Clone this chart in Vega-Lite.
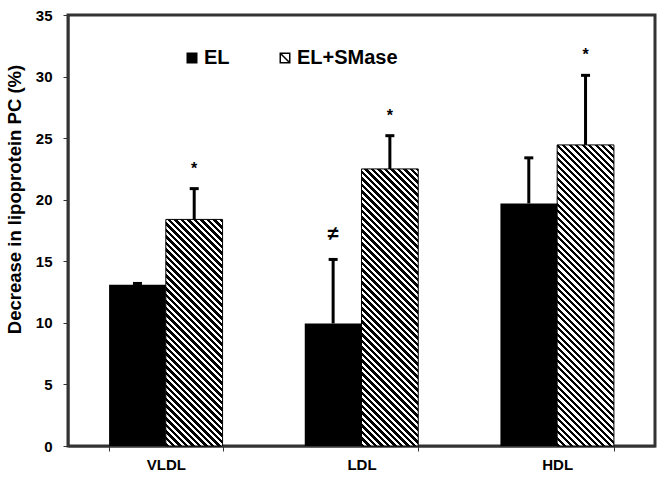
{
 "$schema": "https://vega.github.io/schema/vega-lite/v6.json",
 "width": 587,
 "height": 431,
 "autosize": {"type": "none"},
 "padding": {"left": 68, "top": 15, "right": 9, "bottom": 33},
 "background": "white",
 "config": {
  "view": {"stroke": "#333", "strokeWidth": 3},
  "font": "Liberation Sans",
  "axis": {"labelFont": "Liberation Sans", "labelFontWeight": "bold", "labelColor": "#000", "titleFont": "Liberation Sans", "titleFontWeight": "bold", "titleColor": "#000", "tickColor": "#333", "domainColor": "#333", "grid": false}
 },
 "params": [
  {"name": "hatchStops", "value": [
{"offset":0,"color":"#000"},
{"offset":0.009,"color":"#000"},{"offset":0.009,"color":"#fff"},
{"offset":0.018,"color":"#fff"},{"offset":0.018,"color":"#000"},
{"offset":0.027,"color":"#000"},{"offset":0.027,"color":"#fff"},
{"offset":0.036,"color":"#fff"},{"offset":0.036,"color":"#000"},
{"offset":0.045,"color":"#000"},{"offset":0.045,"color":"#fff"},
{"offset":0.054,"color":"#fff"},{"offset":0.054,"color":"#000"},
{"offset":0.063,"color":"#000"},{"offset":0.063,"color":"#fff"},
{"offset":0.072,"color":"#fff"},{"offset":0.072,"color":"#000"},
{"offset":0.081,"color":"#000"},{"offset":0.081,"color":"#fff"},
{"offset":0.09,"color":"#fff"},{"offset":0.09,"color":"#000"},
{"offset":0.099,"color":"#000"},{"offset":0.099,"color":"#fff"},
{"offset":0.108,"color":"#fff"},{"offset":0.108,"color":"#000"},
{"offset":0.117,"color":"#000"},{"offset":0.117,"color":"#fff"},
{"offset":0.126,"color":"#fff"},{"offset":0.126,"color":"#000"},
{"offset":0.135,"color":"#000"},{"offset":0.135,"color":"#fff"},
{"offset":0.144,"color":"#fff"},{"offset":0.144,"color":"#000"},
{"offset":0.153,"color":"#000"},{"offset":0.153,"color":"#fff"},
{"offset":0.162,"color":"#fff"},{"offset":0.162,"color":"#000"},
{"offset":0.171,"color":"#000"},{"offset":0.171,"color":"#fff"},
{"offset":0.18,"color":"#fff"},{"offset":0.18,"color":"#000"},
{"offset":0.189,"color":"#000"},{"offset":0.189,"color":"#fff"},
{"offset":0.198,"color":"#fff"},{"offset":0.198,"color":"#000"},
{"offset":0.207,"color":"#000"},{"offset":0.207,"color":"#fff"},
{"offset":0.216,"color":"#fff"},{"offset":0.216,"color":"#000"},
{"offset":0.225,"color":"#000"},{"offset":0.225,"color":"#fff"},
{"offset":0.234,"color":"#fff"},{"offset":0.234,"color":"#000"},
{"offset":0.243,"color":"#000"},{"offset":0.243,"color":"#fff"},
{"offset":0.252,"color":"#fff"},{"offset":0.252,"color":"#000"},
{"offset":0.261,"color":"#000"},{"offset":0.261,"color":"#fff"},
{"offset":0.27,"color":"#fff"},{"offset":0.27,"color":"#000"},
{"offset":0.279,"color":"#000"},{"offset":0.279,"color":"#fff"},
{"offset":0.288,"color":"#fff"},{"offset":0.288,"color":"#000"},
{"offset":0.297,"color":"#000"},{"offset":0.297,"color":"#fff"},
{"offset":0.306,"color":"#fff"},{"offset":0.306,"color":"#000"},
{"offset":0.315,"color":"#000"},{"offset":0.315,"color":"#fff"},
{"offset":0.324,"color":"#fff"},{"offset":0.324,"color":"#000"},
{"offset":0.333,"color":"#000"},{"offset":0.333,"color":"#fff"},
{"offset":0.342,"color":"#fff"},{"offset":0.342,"color":"#000"},
{"offset":0.351,"color":"#000"},{"offset":0.351,"color":"#fff"},
{"offset":0.36,"color":"#fff"},{"offset":0.36,"color":"#000"},
{"offset":0.369,"color":"#000"},{"offset":0.369,"color":"#fff"},
{"offset":0.378,"color":"#fff"},{"offset":0.378,"color":"#000"},
{"offset":0.387,"color":"#000"},{"offset":0.387,"color":"#fff"},
{"offset":0.396,"color":"#fff"},{"offset":0.396,"color":"#000"},
{"offset":0.405,"color":"#000"},{"offset":0.405,"color":"#fff"},
{"offset":0.414,"color":"#fff"},{"offset":0.414,"color":"#000"},
{"offset":0.423,"color":"#000"},{"offset":0.423,"color":"#fff"},
{"offset":0.432,"color":"#fff"},{"offset":0.432,"color":"#000"},
{"offset":0.441,"color":"#000"},{"offset":0.441,"color":"#fff"},
{"offset":0.45,"color":"#fff"},{"offset":0.45,"color":"#000"},
{"offset":0.459,"color":"#000"},{"offset":0.459,"color":"#fff"},
{"offset":0.468,"color":"#fff"},{"offset":0.468,"color":"#000"},
{"offset":0.477,"color":"#000"},{"offset":0.477,"color":"#fff"},
{"offset":0.486,"color":"#fff"},{"offset":0.486,"color":"#000"},
{"offset":0.495,"color":"#000"},{"offset":0.495,"color":"#fff"},
{"offset":0.504,"color":"#fff"},{"offset":0.504,"color":"#000"},
{"offset":0.513,"color":"#000"},{"offset":0.513,"color":"#fff"},
{"offset":0.522,"color":"#fff"},{"offset":0.522,"color":"#000"},
{"offset":0.531,"color":"#000"},{"offset":0.531,"color":"#fff"},
{"offset":0.54,"color":"#fff"},{"offset":0.54,"color":"#000"},
{"offset":0.549,"color":"#000"},{"offset":0.549,"color":"#fff"},
{"offset":0.558,"color":"#fff"},{"offset":0.558,"color":"#000"},
{"offset":0.567,"color":"#000"},{"offset":0.567,"color":"#fff"},
{"offset":0.576,"color":"#fff"},{"offset":0.576,"color":"#000"},
{"offset":0.585,"color":"#000"},{"offset":0.585,"color":"#fff"},
{"offset":0.594,"color":"#fff"},{"offset":0.594,"color":"#000"},
{"offset":0.603,"color":"#000"},{"offset":0.603,"color":"#fff"},
{"offset":0.612,"color":"#fff"},{"offset":0.612,"color":"#000"},
{"offset":0.621,"color":"#000"},{"offset":0.621,"color":"#fff"},
{"offset":0.63,"color":"#fff"},{"offset":0.63,"color":"#000"},
{"offset":0.639,"color":"#000"},{"offset":0.639,"color":"#fff"},
{"offset":0.648,"color":"#fff"},{"offset":0.648,"color":"#000"},
{"offset":0.657,"color":"#000"},{"offset":0.657,"color":"#fff"},
{"offset":0.666,"color":"#fff"},{"offset":0.666,"color":"#000"},
{"offset":0.675,"color":"#000"},{"offset":0.675,"color":"#fff"},
{"offset":0.684,"color":"#fff"},{"offset":0.684,"color":"#000"},
{"offset":0.693,"color":"#000"},{"offset":0.693,"color":"#fff"},
{"offset":0.702,"color":"#fff"},{"offset":0.702,"color":"#000"},
{"offset":0.711,"color":"#000"},{"offset":0.711,"color":"#fff"},
{"offset":0.72,"color":"#fff"},{"offset":0.72,"color":"#000"},
{"offset":0.729,"color":"#000"},{"offset":0.729,"color":"#fff"},
{"offset":0.738,"color":"#fff"},{"offset":0.738,"color":"#000"},
{"offset":0.747,"color":"#000"},{"offset":0.747,"color":"#fff"},
{"offset":0.756,"color":"#fff"},{"offset":0.756,"color":"#000"},
{"offset":0.765,"color":"#000"},{"offset":0.765,"color":"#fff"},
{"offset":0.774,"color":"#fff"},{"offset":0.774,"color":"#000"},
{"offset":0.783,"color":"#000"},{"offset":0.783,"color":"#fff"},
{"offset":0.792,"color":"#fff"},{"offset":0.792,"color":"#000"},
{"offset":0.801,"color":"#000"},{"offset":0.801,"color":"#fff"},
{"offset":0.81,"color":"#fff"},{"offset":0.81,"color":"#000"},
{"offset":0.819,"color":"#000"},{"offset":0.819,"color":"#fff"},
{"offset":0.828,"color":"#fff"},{"offset":0.828,"color":"#000"},
{"offset":0.837,"color":"#000"},{"offset":0.837,"color":"#fff"},
{"offset":0.846,"color":"#fff"},{"offset":0.846,"color":"#000"},
{"offset":0.855,"color":"#000"},{"offset":0.855,"color":"#fff"},
{"offset":0.864,"color":"#fff"},{"offset":0.864,"color":"#000"},
{"offset":0.873,"color":"#000"},{"offset":0.873,"color":"#fff"},
{"offset":0.882,"color":"#fff"},{"offset":0.882,"color":"#000"},
{"offset":0.891,"color":"#000"},{"offset":0.891,"color":"#fff"},
{"offset":0.9,"color":"#fff"},{"offset":0.9,"color":"#000"},
{"offset":0.909,"color":"#000"},{"offset":0.909,"color":"#fff"},
{"offset":0.918,"color":"#fff"},{"offset":0.918,"color":"#000"},
{"offset":0.927,"color":"#000"},{"offset":0.927,"color":"#fff"},
{"offset":0.936,"color":"#fff"},{"offset":0.936,"color":"#000"},
{"offset":0.945,"color":"#000"},{"offset":0.945,"color":"#fff"},
{"offset":0.954,"color":"#fff"},{"offset":0.954,"color":"#000"},
{"offset":0.963,"color":"#000"},{"offset":0.963,"color":"#fff"},
{"offset":0.972,"color":"#fff"},{"offset":0.972,"color":"#000"},
{"offset":0.981,"color":"#000"},{"offset":0.981,"color":"#fff"},
{"offset":0.99,"color":"#fff"},{"offset":0.99,"color":"#000"},
{"offset":0.999,"color":"#000"},{"offset":0.999,"color":"#fff"},
{"offset":1,"color":"#fff"}
  ]}
 ],
 "data": {"values": [
  {"lipo": "VLDL", "group": "EL", "value": 13.1, "upper": 13.2, "sig": ""},
  {"lipo": "VLDL", "group": "EL+SMase", "value": 18.4, "upper": 20.9, "sig": "*"},
  {"lipo": "LDL", "group": "EL", "value": 9.95, "upper": 15.15, "sig": "≠"},
  {"lipo": "LDL", "group": "EL+SMase", "value": 22.5, "upper": 25.2, "sig": "*"},
  {"lipo": "HDL", "group": "EL", "value": 19.7, "upper": 23.4, "sig": ""},
  {"lipo": "HDL", "group": "EL+SMase", "value": 24.45, "upper": 30.1, "sig": "*"}
 ]},
 "encoding": {
  "x": {"field": "lipo", "type": "nominal", "sort": ["VLDL", "LDL", "HDL"],
        "scale": {"paddingInner": 0.42, "paddingOuter": 0.21},
        "axis": {"title": null, "labelAngle": 0, "labelFontSize": 15, "labelPadding": 6, "tickBand": "extent", "tickSize": 5, "domainWidth": 2}},
  "xOffset": {"field": "group", "type": "nominal", "scale": {"domain": ["EL", "EL+SMase"], "paddingInner": 0, "paddingOuter": 0}}
 },
 "layer": [
  {
   "transform": [{"filter": "datum.group === 'EL'"}],
   "mark": {"type": "bar", "fill": "#000"},
   "encoding": {
    "y": {"field": "value", "type": "quantitative", "title": "Decrease in lipoprotein PC (%)",
          "scale": {"domain": [0, 35], "nice": false},
          "axis": {"values": [0, 5, 10, 15, 20, 25, 30, 35], "labelFontSize": 15, "labelPadding": 11, "tickSize": 5, "domainWidth": 2,
                   "titleFontSize": 18.5, "titleX": -54, "titleY": 184, "titleBaseline": "middle", "titleAlign": "center", "titleAngle": -90}}
   }
  },
  {
   "transform": [{"filter": "datum.group === 'EL+SMase'"}],
   "mark": {"type": "bar", "stroke": "#000", "strokeWidth": 1,
            "fill": {"expr": "{gradient: 'linear', x1: 0, y1: 1, x2: (56.74*361)/(56.74*56.74 + pow(scale('y', 0) - scale('y', datum.value), 2)), y2: 1 - (361*(scale('y', 0) - scale('y', datum.value)))/(56.74*56.74 + pow(scale('y', 0) - scale('y', datum.value), 2)), stops: hatchStops}"}},
   "encoding": {"y": {"field": "value", "type": "quantitative", "title": "Decrease in lipoprotein PC (%)"}}
  },
  {
   "mark": {"type": "rule", "strokeWidth": 3, "color": "#000"},
   "encoding": {"y": {"field": "value", "type": "quantitative", "title": "Decrease in lipoprotein PC (%)"}, "y2": {"field": "upper"}}
  },
  {
   "mark": {"type": "tick", "thickness": 3, "size": 9, "color": "#000", "opacity": 1},
   "encoding": {"y": {"field": "upper", "type": "quantitative", "title": "Decrease in lipoprotein PC (%)"}}
  },
  {
   "transform": [{"filter": "datum.sig === '*'"}],
   "mark": {"type": "text", "font": "Liberation Sans", "fontSize": 16, "fontWeight": "bold", "baseline": "alphabetic", "dy": -15, "color": "#000"},
   "encoding": {"y": {"field": "upper", "type": "quantitative", "title": "Decrease in lipoprotein PC (%)"}, "text": {"field": "sig"}}
  },
  {
   "transform": [{"filter": "datum.sig === '≠'"}],
   "mark": {"type": "text", "font": "Liberation Sans", "fontSize": 20, "fontWeight": "bold", "baseline": "alphabetic", "dy": -19, "color": "#000"},
   "encoding": {"y": {"field": "upper", "type": "quantitative", "title": "Decrease in lipoprotein PC (%)"}, "text": {"field": "sig"}}
  },
  {
   "transform": [{"filter": "false"}],
   "mark": {"type": "point", "filled": true, "stroke": "#000", "strokeWidth": 1, "opacity": 1},
   "encoding": {
    "y": {"field": "value", "type": "quantitative", "title": "Decrease in lipoprotein PC (%)"},
    "fill": {"field": "group", "type": "nominal",
             "scale": {"domain": ["EL", "EL+SMase"], "range": ["#000", "#fff"]},
             "legend": {"orient": "none", "legendX": 114, "legendY": 33, "direction": "horizontal", "title": null,
                        "labelFontSize": 20, "labelFont": "Liberation Sans", "labelFontWeight": "bold", "labelColor": "#000",
                        "symbolSize": 90, "symbolOpacity": 1,
                        "labelOffset": 2, "columnPadding": 45, "padding": 0,
                        "encode": {"symbols": {"update": {"stroke": {"value": "#000"}, "strokeWidth": {"value": 1.2}, "opacity": {"value": 1}}}}}},
    "shape": {"field": "group", "type": "nominal",
              "scale": {"domain": ["EL", "EL+SMase"], "range": ["square", "M-1,-1H1V1H-1Z M-1,-1L1,1"]},
              "legend": {"orient": "none", "legendX": 114, "legendY": 33, "direction": "horizontal", "title": null,
                         "labelFontSize": 20, "labelFont": "Liberation Sans", "labelFontWeight": "bold", "labelColor": "#000",
                         "symbolSize": 90, "symbolOpacity": 1,
                         "labelOffset": 2, "columnPadding": 45, "padding": 0,
                         "encode": {"symbols": {"update": {"stroke": {"value": "#000"}, "strokeWidth": {"value": 1.2}, "opacity": {"value": 1}}}}}}
   }
  }
 ]
}
